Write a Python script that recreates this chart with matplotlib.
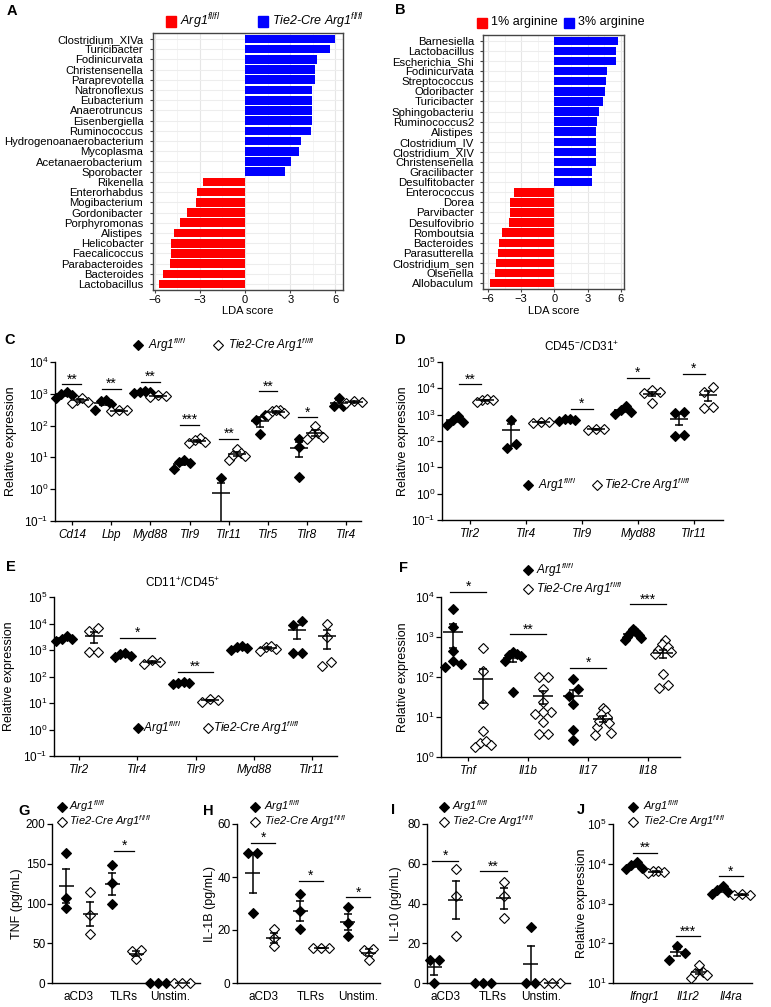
import numpy as np
import matplotlib
matplotlib.use('Agg')
import matplotlib.pyplot as plt
from matplotlib.lines import Line2D
from matplotlib.patches import Rectangle
from matplotlib.ticker import LogLocator, NullLocator, LogFormatterMathtext

plt.rcParams['font.family'] = ['Liberation Sans', 'DejaVu Sans']
plt.rcParams['mathtext.fontset'] = 'custom'
plt.rcParams['mathtext.rm'] = 'Liberation Sans'
plt.rcParams['mathtext.it'] = 'Liberation Sans:italic'
plt.rcParams['mathtext.bf'] = 'Liberation Sans:bold'

# ---------------- data ----------------
A_taxa = ['Clostridium_XIVa', 'Turicibacter', 'Fodinicurvata', 'Christensenella', 'Paraprevotella',
          'Natronoflexus', 'Eubacterium', 'Anaerotruncus', 'Eisenbergiella', 'Ruminococcus',
          'Hydrogenoanaerobacterium', 'Mycoplasma', 'Acetanaerobacterium', 'Sporobacter',
          'Rikenella', 'Enterorhabdus', 'Mogibacterium', 'Gordonibacter', 'Porphyromonas',
          'Alistipes', 'Helicobacter', 'Faecalicoccus', 'Parabacteroides', 'Bacteroides', 'Lactobacillus']
A_lda = [5.96, 5.62, 4.76, 4.65, 4.61, 4.47, 4.47, 4.45, 4.43, 4.38, 3.73, 3.55, 3.08, 2.63,
         -2.79, -3.21, -3.28, -3.82, -4.34, -4.74, -4.88, -4.88, -4.94, -5.44, -5.69]

B_taxa = ['Barnesiella', 'Lactobacillus', 'Escherichia_Shi', 'Fodinicurvata', 'Streptococcus',
          'Odoribacter', 'Turicibacter', 'Sphingobacteriu', 'Ruminococcus2', 'Alistipes',
          'Clostridium_IV', 'Clostridium_XIV', 'Christensenella', 'Gracilibacter', 'Desulfitobacter',
          'Enterococcus', 'Dorea', 'Parvibacter', 'Desulfovibrio', 'Romboutsia', 'Bacteroides',
          'Parasutterella', 'Clostridium_sen', 'Olsenella', 'Allobaculum']
B_lda = [5.77, 5.62, 5.56, 4.80, 4.65, 4.56, 4.38, 4.05, 3.90, 3.81, 3.75, 3.75, 3.75, 3.45, 3.42,
         -3.66, -4.02, -4.05, -4.11, -4.77, -5.01, -5.13, -5.28, -5.37, -5.85]

C_genes = ['Cd14', 'Lbp', 'Myd88', 'Tlr9', 'Tlr11', 'Tlr5', 'Tlr8', 'Tlr4']
C_arg1 = [[1100, 900, 750, 1000], [600, 320, 620, 480], [1200, 1100, 1150, 1050], [8, 4.2, 7, 6.5],
          [2.3, 0, 0], [210, 150, 55], [37, 22, 2.4], [750, 400, 420]]
C_tie2 = [[650, 550, 520, 750], [300, 280, 310], [900, 800, 850], [40, 30, 28, 35],
          [19, 14, 11, 8, 12], [300, 220, 280, 310, 250], [100, 60, 45, 55, 38], [500, 550, 600]]
C_sig = [('**', 0, 2000), ('**', 1, 1400), ('**', 2, 2350), ('***', 3, 107),
         ('**', 4, 39), ('**', 5, 1200), ('*', 6, 180)]

D_genes = ['Tlr2', 'Tlr4', 'Tlr9', 'Myd88', 'Tlr11']
D_arg1 = [[900, 620, 400, 550], [620, 78, 55], [700, 600, 680, 620], [2200, 1500, 1100, 1300],
          [1300, 1200, 160, 175]]
D_tie2 = [[3700, 3100, 3800, 3600], [550, 480, 520], [280, 260, 290], [8500, 6500, 7500, 2700],
          [11500, 7500, 1800, 1900]]
D_sig = [('**', 0, 14000), ('*', 2, 1700), ('*', 3, 24500), ('*', 4, 36000)]

E_genes = ['Tlr2', 'Tlr4', 'Tlr9', 'Myd88', 'Tlr11']
E_arg1 = [[2700, 2200, 3500, 2500], [800, 550, 680, 620], [62, 50, 55, 58], [1400, 1000, 1300, 1150],
          [12500, 8500, 750, 800]]
E_tie2 = [[6500, 5000, 850, 850], [430, 290, 350], [14, 11, 13], [1350, 950, 1100, 1400],
          [10000, 3000, 240, 350]]
E_sig = [('*', 1, 2800), ('**', 2, 150)]

F_genes = ['Tnf', 'Il1b', 'Il17', 'Il18']
F_arg1 = [[5000, 1800, 450, 250, 180, 210], [420, 380, 330, 350, 250, 42],
          [88, 49, 33, 21, 4.8, 2.6], [1600, 1400, 1300, 1200, 1100, 950, 1000, 1250, 850]]
F_tie2 = [[540, 140, 21, 4.5, 2.2, 2.5, 1.8, 2.0], [100, 100, 50, 24, 13, 13, 12, 7.5, 3.8, 3.8],
          [17, 15, 12, 10, 7, 5.6, 4, 3.6, 8], [820, 650, 560, 480, 420, 380, 120, 62, 52]]
F_sig = [('*', 0, 13300), ('**', 1, 1170), ('*', 2, 170), ('***', 3, 6600)]

stim = ['aCD3', 'TLRs', 'Unstim.']
G_arg1 = [[164, 107, 94], [148, 126, 99], [0, 0, 0]]
G_tie2 = [[114, 86, 62], [41, 40, 30], [0, 0, 0]]
G_sig = [('*', 1, 166)]
H_arg1 = [[49, 49, 26.5], [33.6, 27.3, 20.4], [28.7, 22.5, 17.9]]
H_tie2 = [[20.4, 17, 13.8], [13.2, 13.2, 13.2], [13, 12.6, 8.8]]
H_sig = [('*', 0, 52.8), ('*', 1, 38.6), ('*', 2, 32.3)]
I_arg1 = [[11.7, 11.7, 0], [0, 0, 0], [28.2, 0, 0]]
I_tie2 = [[57.4, 44, 23.8], [51, 44, 32.7], [0, 0, 0]]
I_sig = [('*', 0, 61.5), ('**', 1, 56.2)]

J_genes = ['Ifngr1', 'Il1r2', 'Il4ra']
J_arg1 = [[11000, 9500, 8000, 7200], [83, 58, 39], [2700, 2000, 1700, 2200]]
J_tie2 = [[6500, 6200, 6400, 6000], [28, 19, 16, 13.5, 18], [1750, 1650, 1600]]
J_sig = [('**', 0, 18600), ('***', 1, 148), ('*', 2, 4800)]

ARG = r'Arg1$^{fl/fl}$'
TIE = r'Tie2-Cre Arg1$^{fl/fl}$'

# ---------------- figure ----------------
W, H = 771, 1007
fig = plt.figure(figsize=(W / 100, H / 100), dpi=100)
FS = 8.5
MS = 5.3


def add_ax(x0, y0, x1, y1):
    return fig.add_axes([x0 / W, 1 - y1 / H, (x1 - x0) / W, (y1 - y0) / H])


def fx(x):
    return x / W


def fy(y):
    return 1 - y / H


def panel_letter(x, y, s):
    fig.text(fx(x), fy(y), s, fontsize=10.5, fontweight='bold', ha='left', va='center')


def leg_marker(x, y, filled):
    fig.add_artist(Line2D([fx(x)], [fy(y)], transform=fig.transFigure, ls='none', marker='D', ms=MS,
                          mfc='black' if filled else 'white', mec='black', mew=0.8))


def leg_text(x, y, s, size=FS):
    fig.text(fx(x), fy(y), s, fontsize=size, style='italic', ha='left', va='center')


def lda_panel(box, taxa, lda, xlim, pad, xlabel_y, lsize=8.2):
    x0, y0, x1, y1 = box
    ax = add_ax(*box)
    n = len(taxa)
    y = np.arange(n)[::-1]
    colors = ['#0000FF' if v > 0 else '#FF0000' for v in lda]
    ax.barh(y, lda, height=0.84, color=colors, zorder=2)
    ax.set_ylim(-0.58, n - 0.42)
    ax.set_xlim(*xlim)
    ax.set_xticks([-6, -3, 0, 3, 6])
    ax.set_xticks([-4.5, -1.5, 1.5, 4.5], minor=True)
    ax.set_yticks(y)
    ax.set_yticklabels(taxa)
    ax.grid(True, which='major', axis='x', color='#E6E6E6', lw=0.8, zorder=0)
    ax.grid(True, which='minor', axis='x', color='#F2F2F2', lw=0.6, zorder=0)
    ax.grid(True, which='major', axis='y', color='#EDEDED', lw=0.8, zorder=0)
    ax.set_axisbelow(True)
    for s in ax.spines.values():
        s.set_color('#444444')
        s.set_linewidth(1.0)
    ax.tick_params(axis='y', length=2, width=0.8, color='#444444', labelsize=lsize, pad=pad)
    ax.tick_params(axis='x', length=2, width=0.8, color='#444444', labelsize=8, pad=1.5)
    ax.tick_params(axis='x', which='minor', length=0)
    ax.set_xlabel('LDA score', fontsize=8)
    ax.xaxis.set_label_coords(0.5, -(xlabel_y - y1) / (y1 - y0))
    return ax


def swarm(v, hpx, ylim, log, thr=7.0, step=4.5, max_half=8):
    if log:
        t = np.log10(np.where(v > 0, v, ylim[0]))
        lo, hi = np.log10(ylim[0]), np.log10(ylim[1])
    else:
        t = v
        lo, hi = ylim
    ypx = (t - lo) / (hi - lo) * hpx
    order = np.argsort(ypx, kind='stable')
    offs = np.zeros(len(v))
    clusters, cur = [], [order[0]]
    for a, b in zip(order[:-1], order[1:]):
        if ypx[b] - ypx[a] < thr:
            cur.append(b)
        else:
            clusters.append(cur)
            cur = [b]
    clusters.append(cur)
    for c in clusters:
        k = len(c)
        if k > 1:
            w = min((k - 1) * step, max_half)
            pos = np.linspace(-w, w, k)
            zig = []
            lo_i, hi_i = 0, k - 1
            for j in range(k):
                if j % 2 == 0:
                    zig.append(pos[lo_i]); lo_i += 1
                else:
                    zig.append(pos[hi_i]); hi_i -= 1
            offs[c] = zig
    return offs


def dot_panel(box, cats, g1, g2, ylim, log, xlim, d, sig, ylabel, ylabel_x,
              mw_px=9, cap_px=4, xticklen=3.0, xpad=2.5, yticks=None, italic=True, sig_half=None):
    x0, y0, x1, y1 = box
    ax = add_ax(*box)
    wpx, hpx = x1 - x0, y1 - y0
    ax.set_xlim(*xlim)
    ppx = wpx / (xlim[1] - xlim[0])
    if log:
        ax.set_yscale('log')
    ax.set_ylim(*ylim)
    hw, cw = mw_px / ppx, cap_px / ppx
    for i in range(len(cats)):
        for vals, off, filled in ((g1[i], -d, True), (g2[i], d, False)):
            v = np.asarray(vals, float)
            xs = i + off + swarm(v, hpx, ylim, log) / ppx
            m = v > 0 if log else np.ones(len(v), bool)
            ax.plot(xs[m], v[m], ls='none', marker='D', ms=MS, mfc='black' if filled else 'white',
                    mec='black', mew=0.8, clip_on=False, zorder=3)
            mean = v.mean()
            se = v.std(ddof=1) / np.sqrt(len(v))
            xc = i + off
            ax.plot([xc - hw, xc + hw], [mean, mean], color='k', lw=1.1, zorder=4, clip_on=False,
                    solid_capstyle='butt')
            if se > 0:
                lo, hi = mean - se, mean + se
                clipped = log and lo <= ylim[0]
                if clipped:
                    lo = ylim[0] * 1e-3
                ax.plot([xc, xc], [lo, hi], color='k', lw=1.1, zorder=4)
                ax.plot([xc - cw, xc + cw], [hi, hi], color='k', lw=1.1, zorder=4, solid_capstyle='butt')
                if not clipped:
                    ax.plot([xc - cw, xc + cw], [lo, lo], color='k', lw=1.1, zorder=4, solid_capstyle='butt')
    sh = d if sig_half is None else sig_half
    for stars, i, yv in sig:
        ax.plot([i - sh, i + sh], [yv, yv], color='k', lw=0.9, clip_on=False)
        ax.annotate(stars, (i, yv), xytext=(0, -1.5), textcoords='offset points', ha='center',
                    va='bottom', fontsize=10, annotation_clip=False)
    for s in ('top', 'right'):
        ax.spines[s].set_visible(False)
    for s in ('left', 'bottom'):
        ax.spines[s].set_linewidth(1.0)
    ax.set_xticks(range(len(cats)))
    ax.set_xticklabels(cats, fontstyle='italic' if italic else 'normal')
    ax.tick_params(axis='x', length=xticklen, width=0.9, labelsize=FS, pad=xpad)
    ax.tick_params(axis='y', length=3.5, width=0.9, labelsize=FS, pad=1.2)
    if log:
        ax.yaxis.set_major_locator(LogLocator(base=10, numticks=12))
        ax.yaxis.set_minor_locator(NullLocator())
        ax.yaxis.set_major_formatter(LogFormatterMathtext())
    elif yticks is not None:
        ax.set_yticks(yticks)
    ax.set_ylabel(ylabel, fontsize=FS + 0.5)
    ax.yaxis.set_label_coords((ylabel_x - x0) / wpx, 0.5)
    return ax


def two_line_legend(xm, xt, y1, y2, size=8.0):
    leg_marker(xm, y1, True)
    leg_text(xt, y1, ARG, size)
    leg_marker(xm, y2, False)
    leg_text(xt, y2, TIE, size)


# ---------------- Panel A ----------------
lda_panel((153, 33, 343, 290), A_taxa, A_lda, (-6.1, 6.5), 5.0, 306, lsize=8.1)
panel_letter(7, 11, 'A')
fig.add_artist(Rectangle((fx(166), fy(27)), 10 / W, 11 / H, transform=fig.transFigure, color='#FF0000'))
leg_text(180, 21.5, ARG, 9)
fig.add_artist(Rectangle((fx(258), fy(27)), 10 / W, 11 / H, transform=fig.transFigure, color='#0000FF'))
leg_text(272, 21.5, TIE, 9)

# ---------------- Panel B ----------------
lda_panel((483, 35, 624, 289), B_taxa, B_lda, (-6.45, 6.3), 4.5, 306)
panel_letter(395, 10, 'B')
fig.add_artist(Rectangle((fx(477), fy(28)), 10 / W, 10 / H, transform=fig.transFigure, color='#FF0000'))
fig.text(fx(491), fy(22.5), '1% arginine', fontsize=9, ha='left', va='center')
fig.add_artist(Rectangle((fx(564), fy(28)), 10 / W, 10 / H, transform=fig.transFigure, color='#0000FF'))
fig.text(fx(578), fy(22.5), '3% arginine', fontsize=9, ha='left', va='center')

# ---------------- Panel C ----------------
dot_panel((55, 362, 361, 521), C_genes, C_arg1, C_tie2, (0.1, 1e4), True, (-0.43, 7.37), 0.2,
          C_sig, 'Relative expression', 17, sig_half=0.24)
panel_letter(4, 340, 'C')
leg_marker(138, 345, True)
leg_text(148, 345, ARG)
leg_marker(218, 345, False)
leg_text(228, 345, TIE)

# ---------------- Panel D ----------------
dot_panel((442, 362, 723, 520), D_genes, D_arg1, D_tie2, (0.1, 1e5), True, (-0.5, 4.52), 0.26,
          D_sig, 'Relative expression', 409, sig_half=0.2)
panel_letter(395, 340, 'D')
fig.text(fx(582), fy(347), 'CD45$^{-}$/CD31$^{+}$', fontsize=8.5, ha='center', va='center')
leg_marker(528, 485, True)
leg_text(538, 485, ARG)
leg_marker(597, 485, False)
leg_text(604, 485, TIE)

# ---------------- Panel E ----------------
dot_panel((54, 597, 337, 756), E_genes, E_arg1, E_tie2, (0.1, 1e5), True, (-0.43, 4.43), 0.25,
          E_sig, 'Relative expression', 15, sig_half=0.3)
panel_letter(6, 567, 'E')
fig.text(fx(183), fy(583), 'CD11$^{+}$/CD45$^{+}$', fontsize=8.5, ha='center', va='center')
leg_marker(138, 728, True)
leg_text(143, 728, ARG)
leg_marker(208, 728, False)
leg_text(213, 728, TIE)

# ---------------- Panel F ----------------
dot_panel((441, 597, 680, 757), F_genes, F_arg1, F_tie2, (1, 1e4), True, (-0.45, 3.53), 0.25,
          F_sig, 'Relative expression', 409, mw_px=10, sig_half=0.3)
panel_letter(399, 568, 'F')
two_line_legend(528, 536, 570, 589, size=FS)

# ---------------- Panel G ----------------
dot_panel((52, 824, 200, 983), stim, G_arg1, G_tie2, (0, 200), False, (-0.57, 2.65), 0.26,
          G_sig, 'TNF (pg/mL)', 23, mw_px=7.5, xticklen=0, xpad=6, yticks=[0, 50, 100, 150, 200],
          italic=False, sig_half=0.22)
panel_letter(18, 811, 'G')
two_line_legend(62, 69, 806.5, 821.5)

# ---------------- Panel H ----------------
dot_panel((237, 824, 380, 983), stim, H_arg1, H_tie2, (0, 60), False, (-0.55, 2.46), 0.22,
          H_sig, 'IL-1B (pg/mL)', 216, mw_px=7.5, xticklen=0, xpad=6, yticks=[0, 20, 40, 60],
          italic=False, sig_half=0.25)
panel_letter(203, 811, 'H')
two_line_legend(255, 264, 806.5, 821.5)

# ---------------- Panel I ----------------
dot_panel((427, 824, 570, 983), stim, I_arg1, I_tie2, (0, 80), False, (-0.375, 2.6), 0.22,
          I_sig, 'IL-10 (pg/mL)', 402, mw_px=7.5, xticklen=0, xpad=6, yticks=[0, 20, 40, 60, 80],
          italic=False, sig_half=0.28)
panel_letter(391, 810, 'I')
two_line_legend(444, 452, 806.5, 821.5)

# ---------------- Panel J ----------------
dot_panel((613, 824, 752, 983), J_genes, J_arg1, J_tie2, (10, 1e5), True, (-0.74, 2.49), 0.25,
          J_sig, 'Relative expression', 588, mw_px=7.5, xticklen=0, xpad=6, sig_half=0.28)
panel_letter(577, 810, 'J')
two_line_legend(633, 643, 806.5, 821.5)

fig.savefig('out.png', dpi=100)
